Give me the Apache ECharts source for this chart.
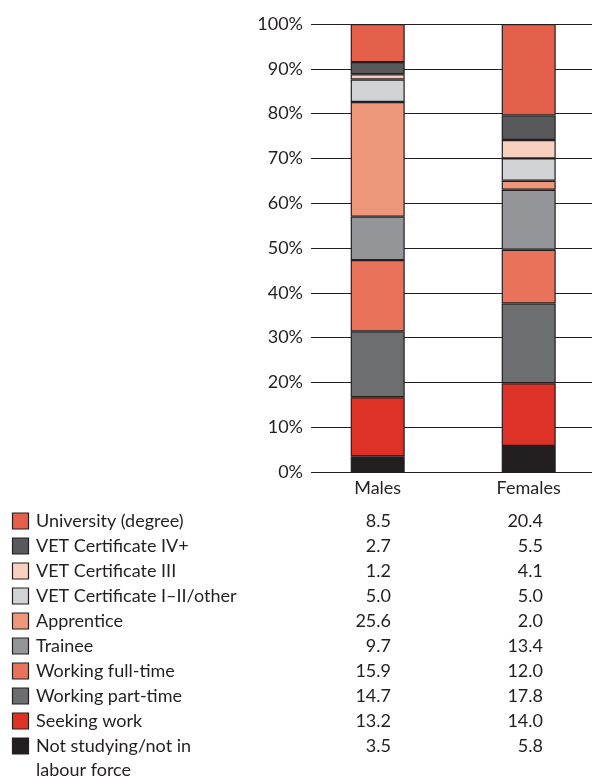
<!DOCTYPE html>
<html>
<head>
<meta charset="utf-8">
<script src="https://cdn.jsdelivr.net/npm/echarts@6/dist/echarts.min.js"></script>
<style>
  html, body { margin: 0; padding: 0; background: #fff; }
  #chart { width: 592px; height: 776px; }
</style>
</head>
<body>
<div id="chart"></div>
<script>
// Destination of young people, by sex (per cent)
const categories = ['Males', 'Females'];

// Stacked from the bottom of each bar upwards
const seriesNames = [
  'Not studying/not in\nlabour force',
  'Seeking work',
  'Working part-time',
  'Working full-time',
  'Trainee',
  'Apprentice',
  'VET Certificate I\u2013II/other',
  'VET Certificate III',
  'VET Certificate IV+',
  'University (degree)'
];
const malesValues   = [3.5, 13.2, 14.7, 15.9, 9.7, 25.6, 5.0, 1.2, 2.7, 8.5];
const femalesValues = [5.8, 14.0, 17.8, 12.0, 13.4, 2.0, 5.0, 4.1, 5.5, 20.4];
const seriesColors = [
  '#231f20', '#de3227', '#6d6e70', '#e8735a', '#939598',
  '#ee977b', '#d1d2d4', '#f8d0c0', '#58595b', '#e5604a'
];
const yTicks = [0, 10, 20, 30, 40, 50, 60, 70, 80, 90, 100];

const FONT = 'Lato, sans-serif';
const TEXT = '#231f20';
const EDGE = '#231f20';
const FS = 18;

// Horizontal placement of the two bars: positions 0 and 1 on a value axis,
// with some free space left of the first bar and right of the second.
const X_MIN = -0.4417;
const X_MAX = 1.4192;

const chart = echarts.init(document.getElementById('chart'), null, { renderer: 'canvas' });

// Each datum is [percentage, bar position]; the percentage comes first so
// that it is the dimension being stacked.
const series = seriesNames.map((name, i) => ({
  name: name,
  type: 'bar',
  stack: 'total',
  barWidth: 54,
  encode: { x: 1, y: 0 },
  data: categories.map((c, k) => [k === 0 ? malesValues[i] : femalesValues[i], k]),
  itemStyle: { color: seriesColors[i], borderColor: EDGE, borderWidth: 1.2 }
}));

// Table below the chart: rows listed top-down (reverse of stacking order)
const graphics = [];
const rowTop = 521;
const rowStep = 25;
for (let r = 0; r < seriesNames.length; r++) {
  const i = seriesNames.length - 1 - r;
  const cy = rowTop + r * rowStep;
  graphics.push({
    type: 'rect',
    shape: { x: 12.5, y: cy - 8, width: 16, height: 16 },
    style: { fill: seriesColors[i], stroke: EDGE, lineWidth: 1.2 }
  });
  graphics.push({
    type: 'text',
    x: 36, y: cy - 12,
    style: { text: seriesNames[i], font: FS + 'px ' + FONT, fill: TEXT, lineHeight: 24, verticalAlign: 'top' }
  });
  graphics.push({
    type: 'text',
    x: 391, y: cy - 12,
    style: { text: malesValues[i].toFixed(1), font: FS + 'px ' + FONT, fill: TEXT, lineHeight: 24, align: 'right', verticalAlign: 'top' }
  });
  graphics.push({
    type: 'text',
    x: 543, y: cy - 12,
    style: { text: femalesValues[i].toFixed(1), font: FS + 'px ' + FONT, fill: TEXT, lineHeight: 24, align: 'right', verticalAlign: 'top' }
  });
}

chart.setOption({
  animation: false,
  backgroundColor: '#fff',
  textStyle: { fontFamily: FONT },
  grid: { left: 311, right: 0, top: 24, bottom: 304, outerBoundsMode: 'none' },
  xAxis: {
    type: 'value', min: X_MIN, max: X_MAX,
    axisLine: { show: false }, axisTick: { show: false },
    splitLine: { show: false },
    axisLabel: {
      customValues: categories.map((c, k) => k),
      formatter: v => categories[Math.round(v)] || '',
      color: TEXT, fontSize: FS, fontFamily: FONT, margin: 7
    }
  },
  yAxis: {
    type: 'value', min: 0, max: 100, interval: 10,
    axisLine: { show: false }, axisTick: { show: false },
    axisLabel: { color: TEXT, fontSize: FS, margin: 8, fontFamily: FONT, formatter: v => yTicks.includes(v) ? v + '%' : '' },
    splitLine: { show: true, lineStyle: { color: EDGE, width: 1 } }
  },
  series: series,
  graphic: graphics
});
</script>
</body>
</html>
